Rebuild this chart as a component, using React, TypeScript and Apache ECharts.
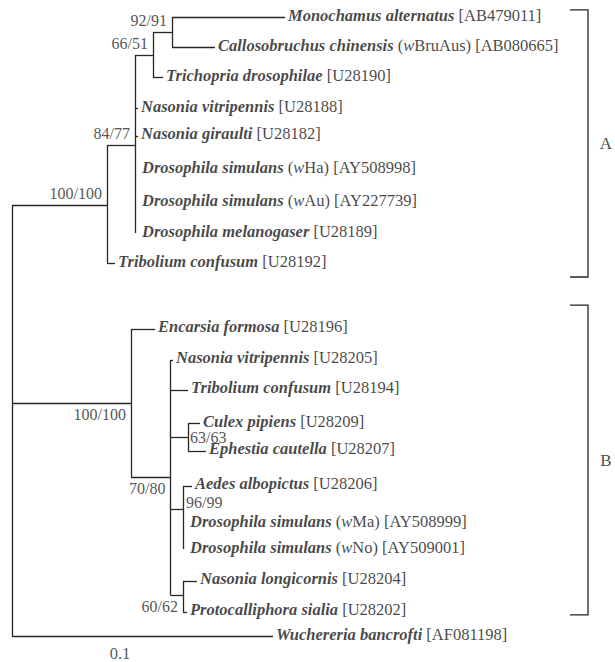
import React, { useEffect, useRef } from "react";
import * as echarts from "echarts";

// ---- Leaves (tips) ----
const leafNames = [
  "Monochamus alternatus",
  "Callosobruchus chinensis",
  "Trichopria drosophilae",
  "Nasonia vitripennis",
  "Nasonia giraulti",
  "Drosophila simulans",
  "Drosophila simulans",
  "Drosophila melanogaser",
  "Tribolium confusum",
  "Encarsia formosa",
  "Nasonia vitripennis",
  "Tribolium confusum",
  "Culex pipiens",
  "Ephestia cautella",
  "Aedes albopictus",
  "Drosophila simulans",
  "Drosophila simulans",
  "Nasonia longicornis",
  "Protocalliphora sialia",
  "Wuchereria bancrofti",
];
const leafStrains = ["", "BruAus", "", "", "", "Ha", "Au", "", "", "", "", "", "", "", "", "Ma", "No", "", "", ""];
const leafAccessions = [
  "AB479011", "AB080665", "U28190", "U28188", "U28182", "AY508998", "AY227739", "U28189", "U28192",
  "U28196", "U28205", "U28194", "U28209", "U28207", "U28206", "AY508999", "AY509001", "U28204", "U28202",
  "AF081198",
];
const leafParents = [
  "n92", "n92", "n66", "n84", "n84", "n84", "n84", "n84", "cladeA",
  "cladeB", "n70", "n70", "n63", "n63", "n96", "n96", "n96", "n60", "n60",
  "root",
];
// tip depth (branch length from root)
const leafDepth = [
  0.273, 0.203, 0.151, 0.126, 0.126, 0.123, 0.123, 0.123, 0.103,
  0.143, 0.161, 0.176, 0.188, 0.194, 0.18, 0.171, 0.171, 0.185, 0.175,
  0.261,
];
// vertical row position
const leafRow = [
  0.0, 0.97, 1.95, 2.94, 3.84, 4.94, 5.98, 6.98, 7.95,
  10.08, 11.08, 12.05, 13.12, 14.02, 15.15, 16.38, 17.19, 18.22, 19.22,
  20.0,
];

// ---- Internal nodes ----
const nodeIds = ["root", "cladeA", "n84", "n66", "n92", "cladeB", "n70", "n63", "n96", "n60"];
const nodeParents = [null, "root", "cladeA", "n84", "n66", "root", "cladeB", "n70", "n70", "n70"];
const nodeDepth = [0, 0.095, 0.123, 0.141, 0.16, 0.119, 0.1585, 0.176, 0.171, 0.171];
const nodeRow = [6.07, 6.07, 4.14, 1.23, 0.48, 12.47, 14.86, 13.57, 15.9, 18.68];
const nodeSupport = ["", "100/100", "84/77", "66/51", "92/91", "100/100", "70/80", "63/63", "96/99", "60/62"];
const supportPlace = ["", "above", "above", "above", "above", "below", "below", "right", "rightUp", "below"];

// ---- Clade brackets ----
const cladeLabels = ["A", "B"];
const cladeTop = [-0.23, 9.31];
const cladeBottom = [8.4, 19.32];
const bracketDepth = 0.576;
const bracketArm = 0.558;
const cladeLabelDepth = 0.594;

const scaleLabel = "0.1";
const scaleLabelPos = [0.108, 20.58];

const FONT = "Liberation Serif";
const LINE = "#262626";
const TEXT = "#151515";

export default function App() {
  const ref = useRef<HTMLDivElement>(null);
  useEffect(() => {
    document.body.style.margin = "0";
    if (!ref.current) return;
    const chart = echarts.init(ref.current, undefined, { renderer: "svg" });

    const nodeIndex: Record<string, number> = {};
    nodeIds.forEach((id, i) => (nodeIndex[id] = i));

    const childRows: number[][] = nodeIds.map(() => []);
    leafParents.forEach((p, i) => childRows[nodeIndex[p]].push(leafRow[i]));
    nodeParents.forEach((p, i) => {
      if (p) childRows[nodeIndex[p]].push(nodeRow[i]);
    });

    const segs: any[] = [];
    nodeIds.forEach((_, i) => {
      const rows = childRows[i];
      segs.push({ coords: [[nodeDepth[i], Math.min(...rows)], [nodeDepth[i], Math.max(...rows)]] });
      const p = nodeParents[i];
      if (p) {
        const pi = nodeIndex[p];
        segs.push({ coords: [[nodeDepth[pi], nodeRow[i]], [nodeDepth[i], nodeRow[i]]] });
      }
    });
    leafParents.forEach((p, i) => {
      const pd = nodeDepth[nodeIndex[p]];
      if (leafDepth[i] > pd) segs.push({ coords: [[pd, leafRow[i]], [leafDepth[i], leafRow[i]]] });
    });

    const brackets = cladeLabels.map((_, i) => ({
      coords: [
        [bracketArm, cladeTop[i]],
        [bracketDepth, cladeTop[i]],
        [bracketDepth, cladeBottom[i]],
        [bracketArm, cladeBottom[i]],
      ],
    }));

    const leafData = leafNames.map((name, i) => {
      const strain = leafStrains[i];
      const zero = leafDepth[i] <= nodeDepth[nodeIndex[leafParents[i]]];
      let txt = `{b|${name}}`;
      if (strain) txt += `{r| (}{i|w}{r|${strain})}`;
      txt += `{r| [${leafAccessions[i]}]}`;
      return {
        value: [leafDepth[i], leafRow[i]],
        label: { formatter: txt, distance: zero ? 7 : 3 },
      };
    });

    const supportData = nodeIds
      .map((_, i) => {
        if (!nodeSupport[i]) return null;
        const place = supportPlace[i];
        let label: any;
        if (place === "above") label = { position: "left", distance: 5, offset: [0, -11.5] };
        else if (place === "below") label = { position: "left", distance: 5, offset: [0, 11.5] };
        else if (place === "right") label = { position: "right", distance: 2, offset: [0, 0.5] };
        else label = { position: "right", distance: 3, offset: [0, -7] };
        return { value: [nodeDepth[i], nodeRow[i]], name: nodeSupport[i], label };
      })
      .filter(Boolean);

    const cladeData = cladeLabels.map((l, i) => ({
      value: [cladeLabelDepth, (cladeTop[i] + cladeBottom[i]) / 2],
      name: l,
    }));

    const richBase = { fontFamily: FONT, fontSize: 16.5, color: TEXT };

    chart.setOption({
      animation: false,
      backgroundColor: "#ffffff",
      grid: { left: 0, right: 0, top: 0, bottom: 0 },
      xAxis: { type: "value", min: -0.012, max: 0.603, show: false },
      yAxis: { type: "value", min: -0.55, max: 20.84, inverse: true, show: false },
      series: [
        {
          type: "lines",
          coordinateSystem: "cartesian2d",
          data: segs,
          silent: true,
          lineStyle: { color: LINE, width: 1.3, opacity: 1 },
        },
        {
          type: "lines",
          coordinateSystem: "cartesian2d",
          polyline: true,
          data: brackets,
          silent: true,
          lineStyle: { color: LINE, width: 1.3, opacity: 1 },
        },
        {
          type: "scatter",
          symbolSize: 0,
          silent: true,
          data: leafData,
          label: {
            show: true,
            position: "right",
            offset: [0, -2],
            fontFamily: FONT,
            fontSize: 16.5,
            color: TEXT,
            rich: {
              b: { ...richBase, fontWeight: "bold", fontStyle: "italic" },
              i: { ...richBase, fontStyle: "italic" },
              r: { ...richBase },
            },
          },
        },
        {
          type: "scatter",
          symbolSize: 0,
          silent: true,
          data: supportData,
          label: {
            show: true,
            formatter: "{b}",
            fontFamily: FONT,
            fontSize: 16,
            color: "#262626",
          },
        },
        {
          type: "scatter",
          symbolSize: 0,
          silent: true,
          data: cladeData,
          label: {
            show: true,
            position: "inside",
            formatter: "{b}",
            fontFamily: FONT,
            fontSize: 17,
            color: TEXT,
          },
        },
        {
          type: "scatter",
          symbolSize: 0,
          silent: true,
          data: [{ value: scaleLabelPos, name: scaleLabel }],
          label: {
            show: true,
            position: "inside",
            formatter: "{b}",
            fontFamily: FONT,
            fontSize: 16.5,
            color: "#262626",
          },
        },
      ],
    });
    return () => chart.dispose();
  }, []);
  return <div ref={ref} style={{ width: 615, height: 662 }} />;
}
